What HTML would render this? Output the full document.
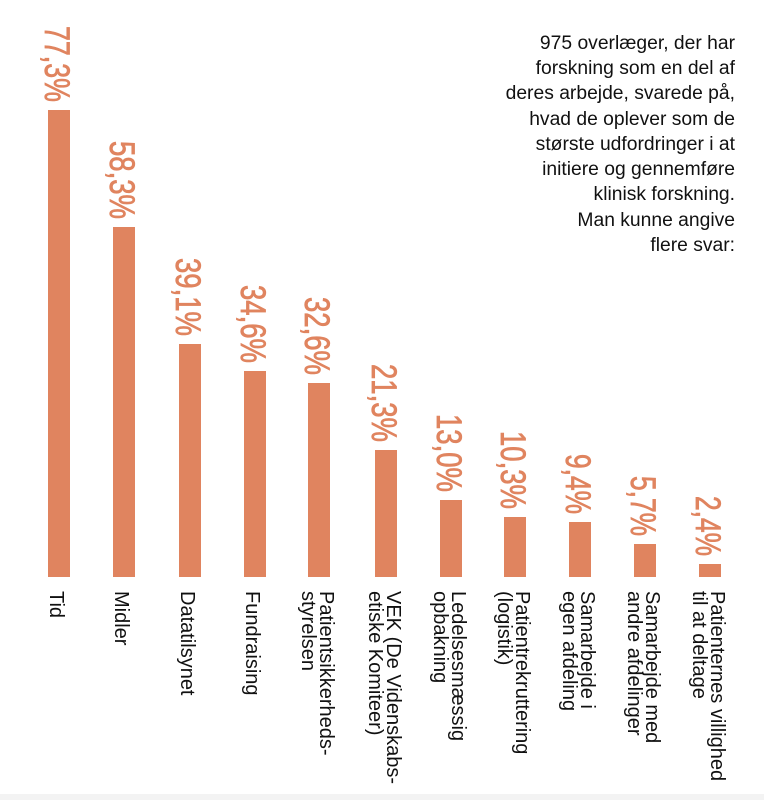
<!DOCTYPE html>
<html><head><meta charset="utf-8"><style>
html,body{margin:0;padding:0;background:#fff;}
svg{display:block;}
.p{font-family:"Liberation Sans",sans-serif;font-size:35px;fill:#E0845F;stroke:#E0845F;stroke-width:0.8;}
.c{font-family:"Liberation Sans",sans-serif;font-size:20px;fill:#111;}
.t{font-family:"Liberation Sans",sans-serif;font-size:19.3px;fill:#111;text-anchor:end;}
</style></head><body>
<svg width="764" height="800" viewBox="0 0 764 800" xmlns="http://www.w3.org/2000/svg">
<rect x="0" y="794" width="764" height="6" fill="#f3f3f3"/>
<g fill="#E0845F">
<rect x="48" y="110" width="22" height="467"/>
<rect x="113" y="227" width="22" height="350"/>
<rect x="179" y="344" width="22" height="233"/>
<rect x="244" y="371" width="22" height="206"/>
<rect x="308" y="383" width="22" height="194"/>
<rect x="375" y="450" width="22" height="127"/>
<rect x="440" y="500" width="22" height="77"/>
<rect x="504" y="517" width="22" height="60"/>
<rect x="569" y="522" width="22" height="55"/>
<rect x="634" y="544" width="22" height="33"/>
<rect x="699" y="564" width="22" height="13"/>
</g>
<g class="p" text-anchor="end">
<text transform="translate(45,102) rotate(90)" textLength="76" lengthAdjust="spacingAndGlyphs">77,3%</text>
<text transform="translate(110,219) rotate(90)" textLength="78" lengthAdjust="spacingAndGlyphs">58,3%</text>
<text transform="translate(176,336) rotate(90)" textLength="78" lengthAdjust="spacingAndGlyphs">39,1%</text>
<text transform="translate(241,363) rotate(90)" textLength="78" lengthAdjust="spacingAndGlyphs">34,6%</text>
<text transform="translate(305,375) rotate(90)" textLength="78" lengthAdjust="spacingAndGlyphs">32,6%</text>
<text transform="translate(372,442) rotate(90)" textLength="78" lengthAdjust="spacingAndGlyphs">21,3%</text>
<text transform="translate(437,492) rotate(90)" textLength="78" lengthAdjust="spacingAndGlyphs">13,0%</text>
<text transform="translate(501,509) rotate(90)" textLength="78" lengthAdjust="spacingAndGlyphs">10,3%</text>
<text transform="translate(566,514) rotate(90)" textLength="60" lengthAdjust="spacingAndGlyphs">9,4%</text>
<text transform="translate(631,536) rotate(90)" textLength="60" lengthAdjust="spacingAndGlyphs">5,7%</text>
<text transform="translate(696,556) rotate(90)" textLength="60" lengthAdjust="spacingAndGlyphs">2,4%</text>
</g>
<g class="c">
<text transform="translate(50,591) rotate(90)">Tid</text>
<text transform="translate(115,591) rotate(90)">Midler</text>
<text transform="translate(181,591) rotate(90)">Datatilsynet</text>
<text transform="translate(246,591) rotate(90)">Fundraising</text>
<text transform="translate(320,591) rotate(90)">Patientsikkerheds-</text>
<text transform="translate(302,591) rotate(90)">styrelsen</text>
<text transform="translate(387,591) rotate(90)">VEK (De Videnskabs-</text>
<text transform="translate(369,591) rotate(90)">etiske Komiteer)</text>
<text transform="translate(452,591) rotate(90)">Ledelsesmæssig</text>
<text transform="translate(434,591) rotate(90)">opbakning</text>
<text transform="translate(516,591) rotate(90)">Patientrekruttering</text>
<text transform="translate(498,591) rotate(90)">(logistik)</text>
<text transform="translate(581,591) rotate(90)">Samarbejde i</text>
<text transform="translate(563,591) rotate(90)">egen afdeling</text>
<text transform="translate(646,591) rotate(90)">Samarbejde med</text>
<text transform="translate(628,591) rotate(90)">andre afdelinger</text>
<text transform="translate(711,591) rotate(90)">Patienternes villighed</text>
<text transform="translate(693,591) rotate(90)">til at deltage</text>
</g>
<g class="t">
<text x="735" y="49">975 overlæger, der har</text>
<text x="735" y="74">forskning som en del af</text>
<text x="735" y="99">deres arbejde, svarede på,</text>
<text x="735" y="125">hvad de oplever som de</text>
<text x="735" y="150">største udfordringer i at</text>
<text x="735" y="175">initiere og gennemføre</text>
<text x="735" y="200">klinisk forskning.</text>
<text x="735" y="226">Man kunne angive</text>
<text x="735" y="251">flere svar:</text>
</g>
</svg>
</body></html>
